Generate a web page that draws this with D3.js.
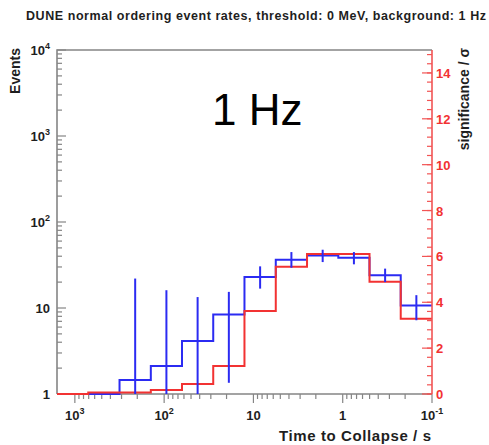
<!DOCTYPE html>
<html>
<head>
<meta charset="utf-8">
<script src="https://cdn.jsdelivr.net/npm/d3@7/dist/d3.min.js"></script>
<style>
  html, body { margin: 0; padding: 0; background: #fff; }
  svg { display: block; }
  text { font-family: "Liberation Sans", Arial, Helvetica, sans-serif; }
</style>
</head>
<body>
<div id="chart"></div>
<script>
// Bin edges of the time-to-collapse histogram (seconds, log-spaced, counting down)
const binEdges = [1585, 708, 316, 141, 63.1, 28.2, 12.6, 5.62, 2.51, 1.12, 0.501, 0.224, 0.1];
// Expected events per bin
const events = [0, 0, 1.45, 2.11, 4.12, 8.4, 22.9, 36.5, 40.9, 38.5, 24, 10.7];
// Error bar bounds on the events
const errLow  = [null, null, 0, 0, 0, 1.35, 16.8, 29.4, 34.2, 32.2, 20, 7.2];
const errHigh = [null, null, 22, 16.1, 13.4, 15.4, 30.5, 44.7, 47.6, 44.7, 28.7, 14.1];
// Significance per bin (right axis)
const significance = [0, 0.06, 0.06, 0.17, 0.44, 1.22, 3.62, 5.55, 6.1, 6.1, 4.9, 3.28];

const xMajor = [1000, 100, 10, 1, 0.1];
const xMajorLabels = [["10", "3"], ["10", "2"], ["10", ""], ["1", ""], ["10", "-1"]];
const yMajor = [1, 10, 100, 1000, 10000];
const yMajorLabels = [["1", ""], ["10", ""], ["10", "2"], ["10", "3"], ["10", "4"]];
const sigLabels = [0, 2, 4, 6, 8, 10, 12, 14];

const W = 489, H = 445;
const padL = 57, padR = 432, padT = 50, padB = 394;
const blue = "#2b2bf2", red = "#f23232", redAxis = "#f25454", frame = "#858585", ink = "#1e1e1e";

const svg = d3.select("#chart").append("svg").attr("width", W).attr("height", H);
svg.append("rect").attr("width", W).attr("height", H).attr("fill", "#fff");

const x = d3.scaleLog().domain([binEdges[0], binEdges[binEdges.length - 1]]).range([padL, padR]);
const y = d3.scaleLog().domain([1, 10000]).range([padB, padT]).clamp(true);
const ys = d3.scaleLinear().domain([0, 15]).range([padB, padT]);

// frame
svg.append("path")
  .attr("d", `M${padL},${padB}V${padT}H${padR}`)
  .attr("fill", "none").attr("stroke", frame).attr("stroke-width", 1.6);
svg.append("line").attr("x1", padL).attr("x2", padR).attr("y1", padB).attr("y2", padB)
  .attr("stroke", frame).attr("stroke-width", 1.6);

// left y axis ticks (inside)
const yMinor = [];
for (let d = 1; d < 10000; d *= 10) for (let m = 2; m <= 9; m++) yMinor.push(d * m);
svg.append("g").selectAll("line").data(yMinor).join("line")
  .attr("x1", padL).attr("x2", padL + 5)
  .attr("y1", d => y(d)).attr("y2", d => y(d))
  .attr("stroke", frame).attr("stroke-width", 1.2);
svg.append("g").selectAll("line").data(yMajor).join("line")
  .attr("x1", padL).attr("x2", padL + 9)
  .attr("y1", d => y(d)).attr("y2", d => y(d))
  .attr("stroke", frame).attr("stroke-width", 1.2);

function powLabel(g, base, exp) {
  g.append("tspan").text(base);
  if (exp) g.append("tspan").attr("font-size", 9).attr("dy", -6).text(exp);
}

const yl = svg.append("g");
yMajor.forEach((v, i) => {
  const t = yl.append("text")
    .attr("x", 50).attr("y", y(v) + 5)
    .attr("text-anchor", "end").attr("font-size", 13).attr("font-weight", "bold").attr("fill", ink);
  powLabel(t, yMajorLabels[i][0], yMajorLabels[i][1]);
});

// x axis ticks (below the axis)
const xMinor = [];
for (let d = 0.1; d < 1000; d *= 10) for (let m = 2; m <= 9; m++) xMinor.push(d * m);
const xDom = x.domain();
const xMinorIn = xMinor.filter(v => v <= xDom[0] && v >= xDom[1]);
svg.append("g").selectAll("line").data(xMinorIn).join("line")
  .attr("x1", d => x(d)).attr("x2", d => x(d))
  .attr("y1", padB).attr("y2", padB + 5)
  .attr("stroke", frame).attr("stroke-width", 1.2);
svg.append("g").selectAll("line").data(xMajor).join("line")
  .attr("x1", d => x(d)).attr("x2", d => x(d))
  .attr("y1", padB).attr("y2", padB + 9)
  .attr("stroke", frame).attr("stroke-width", 1.2);

const xl = svg.append("g");
xMajor.forEach((v, i) => {
  const t = xl.append("text")
    .attr("x", x(v)).attr("y", 420)
    .attr("text-anchor", "middle").attr("font-size", 13).attr("font-weight", "bold").attr("fill", ink);
  powLabel(t, xMajorLabels[i][0], xMajorLabels[i][1]);
});

// step outline of a per-bin series
function stepPath(values, scale) {
  let d = "";
  values.forEach((v, i) => {
    const x0 = x(binEdges[i]), x1 = x(binEdges[i + 1]), yy = scale(v);
    d += (i === 0 ? `M${x0},${yy}` : `L${x0},${yy}`) + `L${x1},${yy}`;
  });
  return d;
}

// events histogram
svg.append("path").attr("d", stepPath(events, y))
  .attr("fill", "none").attr("stroke", blue).attr("stroke-width", 2);

// significance histogram
svg.append("path").attr("d", stepPath(significance, ys))
  .attr("fill", "none").attr("stroke", red).attr("stroke-width", 2);

// error bars on the events
const errIdx = events.map((_, i) => i).filter(i => errHigh[i] !== null);
svg.append("g").selectAll("line").data(errIdx).join("line")
  .attr("x1", i => (x(binEdges[i]) + x(binEdges[i + 1])) / 2)
  .attr("x2", i => (x(binEdges[i]) + x(binEdges[i + 1])) / 2)
  .attr("y1", i => y(errLow[i]))
  .attr("y2", i => y(errHigh[i]))
  .attr("stroke", blue).attr("stroke-width", 2);

// right significance axis
svg.append("line").attr("x1", padR).attr("x2", padR).attr("y1", padT).attr("y2", padB)
  .attr("stroke", redAxis).attr("stroke-width", 1.6);
const sigMinor = d3.range(0, 75).map(k => k * 0.4).filter(v => v <= 15);
svg.append("g").selectAll("line").data(sigMinor).join("line")
  .attr("x1", padR - 5).attr("x2", padR)
  .attr("y1", d => ys(d)).attr("y2", d => ys(d))
  .attr("stroke", redAxis).attr("stroke-width", 1.2);
svg.append("g").selectAll("line").data(sigLabels).join("line")
  .attr("x1", padR - 10).attr("x2", padR)
  .attr("y1", d => ys(d)).attr("y2", d => ys(d))
  .attr("stroke", redAxis).attr("stroke-width", 1.2);
svg.append("g").selectAll("text").data(sigLabels).join("text")
  .attr("x", 436).attr("y", d => ys(d) + 5)
  .attr("font-size", 13).attr("font-weight", "bold").attr("fill", red)
  .text(d => d);

// titles
svg.append("text").attr("x", 256).attr("y", 20).attr("text-anchor", "middle")
  .attr("font-size", 12.5).attr("font-weight", "bold").attr("fill", ink)
  .attr("textLength", 460).attr("lengthAdjust", "spacing")
  .text("DUNE normal ordering event rates, threshold: 0 MeV, background: 1 Hz");
svg.append("text").attr("transform", "translate(20,48) rotate(-90)")
  .attr("text-anchor", "end").attr("font-size", 14).attr("font-weight", "bold").attr("fill", ink)
  .text("Events");
svg.append("text").attr("x", 431).attr("y", 441).attr("text-anchor", "end")
  .attr("font-size", 15).attr("font-weight", "bold").attr("fill", ink)
  .attr("textLength", 152).attr("lengthAdjust", "spacing")
  .text("Time to Collapse / s");
svg.append("text").attr("transform", "translate(469,48) rotate(-90)")
  .attr("text-anchor", "end").attr("font-size", 14).attr("font-weight", "bold").attr("fill", ink)
  .text("significance / σ");
svg.append("text").attr("x", 212).attr("y", 125)
  .attr("font-size", 44).attr("fill", "#000")
  .text("1 Hz");
</script>
</body>
</html>
